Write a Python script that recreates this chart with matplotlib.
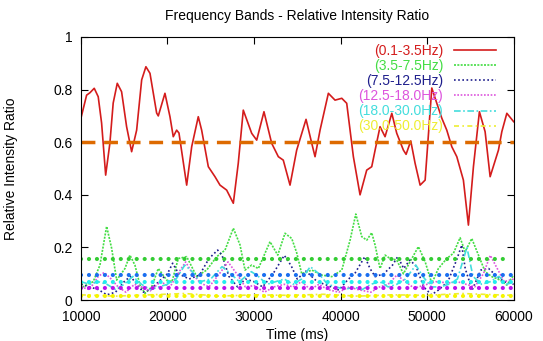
import numpy as np
import matplotlib
matplotlib.use("Agg")
import matplotlib.pyplot as plt

plt.rcParams['font.family'] = ['Liberation Sans', 'DejaVu Sans']

# (0.1-3.5Hz)
t_red = [10000, 10660, 11040, 11540, 12000, 12390, 12860, 13350, 13730, 14200,
         14700, 15280, 15860, 16440, 17020, 17510, 17980, 18750, 18940, 19710,
         20290, 20670, 21060, 21330, 22220, 22800, 23560, 23950, 24720, 25490,
         26070, 26840, 27610, 28180, 28760, 29730, 30310, 31150, 32040, 32810,
         33380, 34160, 34930, 36010, 36670, 37050, 37630, 38590, 39360, 40140,
         40710, 41480, 42250, 43020, 43600, 43990, 44560, 45140, 45920, 46490,
         47260, 47570, 48110, 48610, 49190, 49770, 50540, 51120, 51700, 52270,
         52850, 53430, 54190, 54770, 55350, 56040, 56700, 57280, 58240, 58630,
         59210, 60000]
v_red = [0.691, 0.779, 0.788, 0.805, 0.773, 0.673, 0.475, 0.597, 0.749, 0.824,
         0.792, 0.659, 0.564, 0.646, 0.837, 0.887, 0.862, 0.711, 0.700, 0.786,
         0.697, 0.621, 0.646, 0.635, 0.437, 0.583, 0.697, 0.646, 0.507, 0.469,
         0.437, 0.418, 0.368, 0.520, 0.722, 0.634, 0.608, 0.716, 0.596, 0.545,
         0.532, 0.437, 0.570, 0.687, 0.596, 0.545, 0.646, 0.786, 0.760, 0.767,
         0.748, 0.545, 0.400, 0.494, 0.507, 0.570, 0.659, 0.621, 0.710, 0.634,
         0.570, 0.554, 0.605, 0.520, 0.437, 0.456, 0.806, 0.748, 0.691, 0.646,
         0.583, 0.545, 0.456, 0.285, 0.507, 0.716, 0.640, 0.469, 0.570, 0.640,
         0.710, 0.678]

# (3.5-7.5Hz)
t_green = [10000, 10230, 11420, 12200, 12970, 13550, 14130, 15090, 15660, 16240,
           16820, 17400, 18170, 18940, 19910, 20520, 21250, 22220, 23370, 24530,
           25690, 26650, 27610, 28380, 28960, 29730, 30500, 31850, 32740, 33580,
           34360, 34930, 35510, 36670, 37820, 38980, 40140, 41100, 41760, 42450,
           43030, 43600, 43990, 44560, 45140, 45720, 46490, 47260, 48230, 48990,
           49770, 50540, 51300, 52270, 53040, 53810, 54390, 55160, 55930, 56700,
           57480, 58440, 59210, 60000]
v_green = [0.076, 0.050, 0.070, 0.133, 0.280, 0.197, 0.076, 0.120, 0.171, 0.133,
           0.057, 0.025, 0.050, 0.120, 0.076, 0.070, 0.158, 0.165, 0.090, 0.114,
           0.165, 0.190, 0.273, 0.210, 0.114, 0.133, 0.120, 0.222, 0.171, 0.254,
           0.234, 0.180, 0.100, 0.114, 0.095, 0.089, 0.114, 0.228, 0.327, 0.241,
           0.228, 0.256, 0.209, 0.120, 0.171, 0.158, 0.152, 0.100, 0.158, 0.203,
           0.146, 0.063, 0.120, 0.158, 0.178, 0.237, 0.184, 0.234, 0.171, 0.108,
           0.089, 0.076, 0.057, 0.095]

# (7.5-12.5Hz)
t_navy = [10000, 11000, 12000, 13000, 14000, 15000, 15700, 16500, 17200, 18000,
          19000, 20000, 20600, 21300, 22500, 23700, 24800, 25800, 26300, 27100,
          28100, 29000, 30000, 31000, 32200, 33500, 34300, 35000, 36000, 37300,
          38400, 39800, 40800, 41700, 42800, 43400, 44000, 45000, 46000, 46600,
          47300, 48000, 48700, 49600, 50500, 51300, 52400, 53400, 54000, 54400,
          55200, 56200, 57100, 58100, 58900, 60000]
v_navy = [0.060, 0.050, 0.040, 0.020, 0.030, 0.070, 0.090, 0.060, 0.030, 0.040,
          0.070, 0.100, 0.140, 0.100, 0.080, 0.095, 0.158, 0.190, 0.171, 0.090,
          0.050, 0.080, 0.070, 0.050, 0.100, 0.170, 0.130, 0.080, 0.110, 0.070,
          0.057, 0.038, 0.076, 0.104, 0.165, 0.120, 0.089, 0.100, 0.133, 0.165,
          0.120, 0.152, 0.130, 0.050, 0.020, 0.038, 0.070, 0.152, 0.209, 0.120,
          0.038, 0.114, 0.120, 0.089, 0.070, 0.060]

# (12.5-18.0Hz)
t_mag = [10000, 11000, 12000, 12700, 13500, 14300, 15200, 16200, 17000, 18000,
         19200, 20300, 21200, 22100, 22900, 23800, 24800, 26000, 27000, 28000,
         29000, 30000, 31200, 32300, 33500, 34500, 35500, 36500, 37500, 38500,
         39800, 41000, 42000, 43500, 44500, 45500, 46500, 47500, 48500, 50000,
         51000, 52500, 53500, 54500, 55500, 56500, 57300, 58100, 58900, 60000]
v_mag = [0.050, 0.040, 0.090, 0.105, 0.080, 0.050, 0.030, 0.060, 0.050, 0.035,
         0.070, 0.050, 0.100, 0.145, 0.100, 0.065, 0.050, 0.100, 0.145, 0.100,
         0.050, 0.055, 0.030, 0.050, 0.060, 0.050, 0.070, 0.040, 0.060, 0.040,
         0.030, 0.050, 0.040, 0.030, 0.050, 0.060, 0.095, 0.070, 0.045, 0.060,
         0.070, 0.065, 0.070, 0.060, 0.050, 0.100, 0.170, 0.120, 0.070, 0.080]

# (18.0-30.0Hz)
t_cyan = [10000, 11000, 12000, 13000, 14000, 15000, 16000, 17000, 18000, 19000,
          20000, 21000, 22000, 22800, 23800, 25000, 26300, 27300, 28300, 29700,
          30500, 31500, 32500, 33500, 34500, 35500, 36500, 37500, 38500, 39500,
          40500, 41500, 42500, 43500, 44500, 45500, 46500, 47500, 48700, 49500,
          50500, 51500, 52500, 53500, 54600, 55300, 56300, 57300, 58300, 59200,
          60000]
v_cyan = [0.070, 0.060, 0.070, 0.060, 0.040, 0.060, 0.090, 0.060, 0.040, 0.050,
          0.060, 0.080, 0.133, 0.110, 0.070, 0.080, 0.127, 0.100, 0.070, 0.108,
          0.090, 0.060, 0.070, 0.080, 0.060, 0.080, 0.127, 0.100, 0.060, 0.050,
          0.040, 0.050, 0.040, 0.060, 0.070, 0.050, 0.060, 0.080, 0.133, 0.090,
          0.050, 0.050, 0.060, 0.080, 0.200, 0.090, 0.060, 0.070, 0.090, 0.060,
          0.070]

# (30.0-50.0Hz)
t_yel = [10000, 14000, 18000, 22000, 26000, 30000, 34000, 38000, 42000, 46000,
         50000, 54000, 58000, 60000]
v_yel = [0.020, 0.015, 0.020, 0.025, 0.015, 0.020, 0.018, 0.022, 0.015, 0.020,
         0.018, 0.025, 0.020, 0.018]

labels = ['(0.1-3.5Hz)', '(3.5-7.5Hz)', '(7.5-12.5Hz)', '(12.5-18.0Hz)',
          '(18.0-30.0Hz)', '(30.0-50.0Hz)']

# reference levels
ref_red = 0.6
ref_green = 0.158
ref_navy = 0.095
ref_mag = 0.047
ref_cyan = 0.07
ref_yel = 0.016

fig = plt.figure(figsize=(5.43, 3.41), dpi=100)
ax = fig.add_axes([0.149, 0.12, 0.797, 0.7715])

ax.plot(t_red, v_red, color='#d41c1c', lw=1.2, label=labels[0])
ax.plot(t_green, v_green, color='#44dd44', lw=1.2, ls=(0, (1.2, 0.8)), label=labels[1])
ax.plot(t_navy, v_navy, color='#1e1e8c', lw=1.2, ls=(0, (1, 1.5)), label=labels[2])
ax.plot(t_mag, v_mag, color='#dd55dd', lw=1.2, ls=(0, (1, 1)), label=labels[3])
ax.plot(t_cyan, v_cyan, color='#44dddd', lw=1.2, ls=(0, (4, 1.5, 1, 1.5)), label=labels[4])
ax.plot(t_yel, v_yel, color='#eeee33', lw=1.2, ls=(0, (3, 2, 1, 2)), label=labels[5])

# thick horizontal reference lines
ax.plot([10000, 60000], [ref_red, ref_red], color='#dd6a00', lw=2.5, ls=(0, (4, 2.5)))
dot = dict(lw=3, ls=(0, (0.01, 1.9)), dash_capstyle='round')
ax.plot([10000, 59000], [ref_green, ref_green], color='#33cc33', **dot)
ax.plot([10000, 60000], [ref_navy, ref_navy], color='#1a6ef0', **dot)
ax.plot([10000, 60000], [ref_cyan, ref_cyan], color='#22eeee', **dot)
ax.plot([10000, 60000], [ref_mag, ref_mag], color='#bb11ee', **dot)
ax.plot([10000, 60000], [ref_yel, ref_yel], color='#f5f500', **dot)

ax.set_xlim(10000, 60000)
ax.set_ylim(0, 1)
ax.set_xticks([10000, 20000, 30000, 40000, 50000, 60000])
ax.set_yticks([0, 0.2, 0.4, 0.6, 0.8, 1])
ax.set_yticklabels(['0', '0.2', '0.4', '0.6', '0.8', '1'])
ax.tick_params(direction='in', top=True, right=True, labelsize=10, length=5)
ax.tick_params(axis='x', pad=7)
ax.tick_params(axis='y', pad=6)

ax.set_title('Frequency Bands - Relative Intensity Ratio', fontsize=10, pad=12)
ax.set_xlabel('Time (ms)', fontsize=10, labelpad=3)
ax.set_ylabel('Relative Intensity Ratio', fontsize=10)
ax.yaxis.set_label_coords(-0.145, 0.5)

leg = ax.legend(loc='upper right', frameon=False, markerfirst=False,
                labelcolor='linecolor', fontsize=10, handlelength=3.0,
                labelspacing=0.08, borderaxespad=0.1, handletextpad=0.8,
                bbox_to_anchor=(0.975, 1.0))

plt.savefig('out.png', dpi=100)
